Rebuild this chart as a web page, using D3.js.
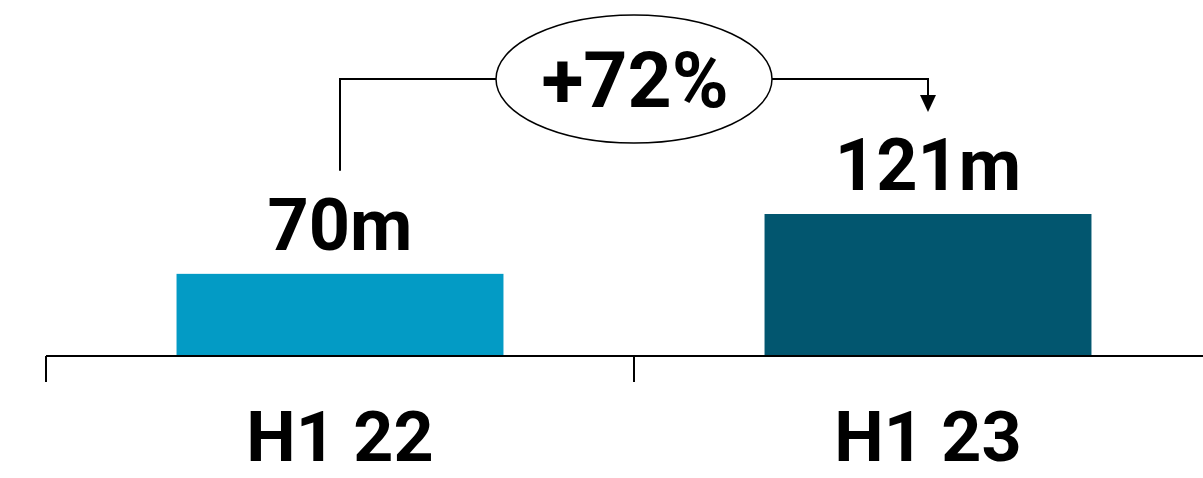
<!DOCTYPE html>
<html>
<head>
<meta charset="utf-8">
<script src="https://cdn.jsdelivr.net/npm/d3@7"></script>
<style>
html,body{margin:0;padding:0;background:#fff;}
svg{display:block;}
text{font-family:Roboto, "DejaVu Sans", sans-serif;font-weight:700;fill:#000;}
</style>
</head>
<body>
<svg id="chart" width="1203" height="478"></svg>
<script>
const categories = ["H1 22", "H1 23"];
const values = [70, 121];
const valueLabels = ["70m", "121m"];
const barColors = ["#039BC5", "#02566F"];
const changeLabel = "+72%";

const W = 1203, H = 478;
const svg = d3.select("#chart");

const x = d3.scaleBand().domain(categories).range([46, 1222]).paddingInner(0).paddingOuter(0);
const y = d3.scaleLinear().domain([0, 121]).range([356, 214]);
const barW = x.bandwidth() * 0.556;

// bars
svg.selectAll("rect.bar").data(values).join("rect")
  .attr("class","bar")
  .attr("x", (d,i) => x(categories[i]) + x.bandwidth()/2 - barW/2)
  .attr("y", d => y(d))
  .attr("width", barW)
  .attr("height", d => y(0) - y(d))
  .attr("fill", (d,i) => barColors[i]);

// axis line
svg.append("line").attr("x1", x.range()[0]).attr("x2", W).attr("y1", y(0)).attr("y2", y(0))
  .attr("stroke","#000").attr("stroke-width",2);
// ticks at band boundaries
const bounds = categories.map(c => x(c)).concat([x.range()[1]]);
svg.selectAll("line.tick").data(bounds).join("line")
  .attr("class","tick")
  .attr("x1", d=>d).attr("x2", d=>d)
  .attr("y1", y(0)).attr("y2", y(0)+26)
  .attr("stroke","#000").attr("stroke-width",2);

// category labels
svg.selectAll("text.cat").data(categories).join("text")
  .attr("class","cat")
  .attr("x", d => x(d) + x.bandwidth()/2)
  .attr("y", 461)
  .attr("text-anchor","middle")
  .attr("font-size", 70)
  .text(d => d);

// value labels
svg.selectAll("text.val").data(values).join("text")
  .attr("class","val")
  .attr("x", (d,i) => x(categories[i]) + x.bandwidth()/2)
  .attr("y", d => y(d) - 24)
  .attr("text-anchor","middle")
  .attr("font-size", 72)
  .text((d,i) => valueLabels[i]);

// annotation
const cx1 = x(categories[0]) + x.bandwidth()/2;
const cx2 = x(categories[1]) + x.bandwidth()/2;
const ly = 79;
const ecx = x(categories[1]), rx = 138, ry = 64;
svg.append("path")
  .attr("d", `M${cx1},${y(values[0]) - 103}V${ly}H${ecx - rx}`)
  .attr("fill","none").attr("stroke","#000").attr("stroke-width",2);
svg.append("path")
  .attr("d", `M${ecx + rx},${ly}H${cx2}V${y(values[1]) - 118}`)
  .attr("fill","none").attr("stroke","#000").attr("stroke-width",2);
svg.append("path")
  .attr("d", `M${cx2-8},${y(values[1]) - 119}L${cx2+8},${y(values[1]) - 119}L${cx2},${y(values[1]) - 102}Z`)
  .attr("fill","#000");
svg.append("ellipse").attr("cx", ecx).attr("cy", ly).attr("rx", rx).attr("ry", ry)
  .attr("fill","#fff").attr("stroke","#000").attr("stroke-width",1.5);
svg.append("text").attr("x", ecx + 1).attr("y", 107).attr("text-anchor","middle")
  .attr("font-size", 77).text(changeLabel);
</script>
</body>
</html>
